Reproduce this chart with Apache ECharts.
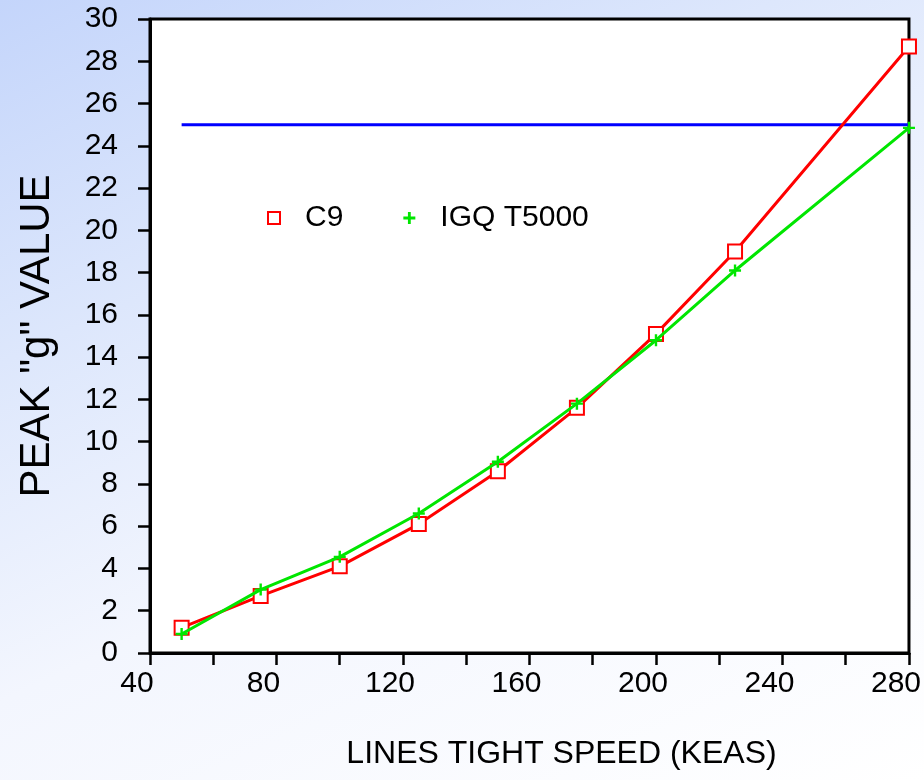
<!DOCTYPE html>
<html>
<head>
<meta charset="utf-8">
<script src="https://cdn.jsdelivr.net/npm/echarts@6/dist/echarts.min.js"></script>
<style>
  html, body { margin: 0; padding: 0; }
  body {
    width: 924px; height: 780px;
    background: linear-gradient(155deg, #c4d5fb 0%, #dde7fc 30%, #f3f6fe 58%, #ffffff 100%);
  }
  #chart { width: 924px; height: 780px; }
</style>
</head>
<body>
<div id="chart"></div>
<script>
const speeds = [50, 75, 100, 125, 150, 175, 200, 225, 280];
const c9Values = [1.2, 2.7, 4.1, 6.1, 8.6, 11.6, 15.1, 19.0, 28.7];
const igqValues = [0.9, 3.0, 4.55, 6.6, 9.05, 11.8, 14.8, 18.1, 24.85];
const limitValues = [25, 25, 25, 25, 25, 25, 25, 25, 25];
const xTicks = [40, 80, 120, 160, 200, 240, 280];

const plusIcon = 'path://M4,0H6V4H10V6H6V10H4V6H0V4H4Z';
const legendPlus = 'path://M4.2,0H6.8V4.2H11V6.8H6.8V11H4.2V6.8H0V4.2H4.2Z';
const font = 'Liberation Sans, Arial, sans-serif';

const pair = (vals) => speeds.map((s, i) => [s, vals[i]]);

const chart = echarts.init(document.getElementById('chart'));
const option = {
  backgroundColor: 'transparent',
  animation: false,
  textStyle: { fontFamily: font },
  grid: {
    left: 150, right: 13, top: 19, bottom: 127,
    show: true, backgroundColor: '#fff', borderColor: '#000', borderWidth: 3
  },
  legend: {
    left: 262, top: 198,
    itemWidth: 12, itemHeight: 12, itemGap: 60,
    textStyle: { fontSize: 30, color: '#000', fontFamily: font, padding: [0, 0, 0, 20] },
    data: [
      { name: 'C9', icon: 'emptyRect' },
      { name: 'IGQ T5000', icon: legendPlus }
    ]
  },
  xAxis: {
    type: 'value', min: 40, max: 280, interval: 20,
    name: 'LINES TIGHT SPEED (KEAS)', nameLocation: 'middle', nameGap: 85,
    nameTextStyle: { fontSize: 32, color: '#000', padding: [0, 0, 0, 64] },
    axisLine: { lineStyle: { color: '#000', width: 3 } },
    axisTick: { length: 12, lineStyle: { color: '#000', width: 2.5 } },
    axisLabel: {
      fontSize: 30, color: '#000', margin: 16, padding: [0, 26, 0, 0],
      formatter: (v) => xTicks.includes(v) ? String(v) : ''
    },
    splitLine: { show: false }
  },
  yAxis: {
    type: 'value', min: 0, max: 30, interval: 2,
    name: 'PEAK "g" VALUE', nameLocation: 'middle', nameGap: 92,
    nameTextStyle: { fontSize: 42, color: '#000' },
    axisLine: { lineStyle: { color: '#000', width: 3 } },
    axisTick: { length: 12, lineStyle: { color: '#000', width: 2.5 } },
    axisLabel: { fontSize: 30, color: '#000', margin: 32 },
    splitLine: { show: false }
  },
  series: [
    {
      name: 'limit', type: 'line', data: pair(limitValues),
      showSymbol: false, symbol: 'none',
      lineStyle: { color: '#0000ff', width: 3 }, z: 1
    },
    {
      name: 'C9', type: 'line', data: pair(c9Values),
      symbol: 'emptyRect', symbolSize: 14,
      itemStyle: { color: '#ff0000', borderWidth: 2.5 },
      lineStyle: { color: '#ff0000', width: 3 }, z: 2
    },
    {
      name: 'IGQ T5000', type: 'line', data: pair(igqValues),
      symbol: plusIcon, symbolSize: 12,
      itemStyle: { color: '#00e600' },
      lineStyle: { color: '#00e600', width: 3 }, z: 3
    }
  ]
};
chart.setOption(option);
</script>
</body>
</html>
